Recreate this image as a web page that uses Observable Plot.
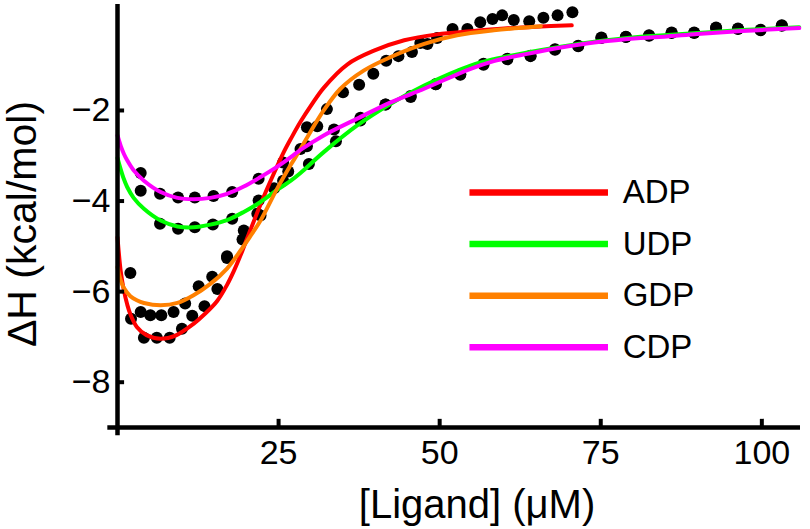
<!DOCTYPE html>
<html><head><meta charset="utf-8">
<script src="https://cdn.jsdelivr.net/npm/d3@7"></script>
<script src="https://cdn.jsdelivr.net/npm/@observablehq/plot@0.6"></script>
<style>html,body{margin:0;padding:0;background:#fff}#chart svg{display:block}</style>
</head><body><div id="chart"></div>
<script>
// ---- data ----
const series = ["ADP", "UDP", "GDP", "CDP"];
const colors = ["#ff0000", "#00ff00", "#ff8000", "#ff00ff"];
const xTicks = [25, 50, 75, 100];
const yTicks = [-2, -4, -6, -8];
const xLabel = "[Ligand] (\u03BCM)";
const yLabel = "\u0394H (kcal/mol)";

// measured points (black dots)
const adpX = [2.1, 4.1, 6.1, 8.1, 10.0, 11.6, 13.5, 15.5, 17.0, 19.4, 21.7, 24.3, 28.4, 31.0, 35.0, 39.7, 43.6, 47.0, 49.6, 54.3, 58.2, 61.5, 66.1, 68.3, 70.6];
const adpY = [-6.60, -7.02, -7.02, -7.02, -6.82, -6.53, -6.32, -5.94, -5.26, -4.85, -4.28, -3.72, -2.85, -2.35, -1.60, -1.19, -0.80, -0.51, -0.40, -0.20, 0.02, 0.0, 0.05, 0.10, 0.17];
const gdpX = [2.0, 3.6, 5.1, 6.8, 8.7, 10.5, 12.6, 14.7, 17.0, 19.6, 22.2, 26.5, 29.4, 32.5, 37.5, 41.7, 45.7, 48.1, 52.0, 56.3, 59.7, 63.9];
const gdpY = [-5.59, -6.45, -6.52, -6.52, -6.45, -6.26, -5.88, -5.67, -5.22, -4.65, -4.32, -3.35, -2.37, -1.97, -1.43, -0.90, -0.71, -0.53, -0.20, -0.05, 0.10, -0.03];
const udpX = [3.6, 6.6, 9.4, 12.0, 14.8, 17.8, 21.9, 25.7, 29.7, 33.9, 37.7, 41.6, 45.5, 49.4, 53.2, 56.8, 60.5, 64.1, 67.9, 71.5, 75.1, 78.9, 82.5, 86.0, 89.5, 92.9, 96.3, 99.8, 103.1];
const udpY = [-3.77, -4.50, -4.61, -4.58, -4.52, -4.39, -3.99, -3.55, -3.18, -2.68, -2.22, -1.87, -1.68, -1.42, -1.21, -0.99, -0.87, -0.80, -0.66, -0.58, -0.40, -0.38, -0.35, -0.29, -0.29, -0.18, -0.20, -0.23, -0.13];
const cdpX = [3.6, 6.6, 9.4, 12.0, 14.9, 17.8, 21.9, 25.7, 29.4, 33.6, 37.7, 41.6, 45.5, 49.4, 53.2, 56.8, 60.5, 64.1, 67.9, 71.5, 75.1, 78.9, 82.5, 86.0, 89.5, 92.9, 96.3, 99.8, 103.1];
const cdpY = [-3.38, -3.84, -3.92, -3.92, -3.89, -3.80, -3.51, -3.15, -2.79, -2.42, -2.16, -1.87, -1.70, -1.42, -1.20, -0.97, -0.86, -0.79, -0.65, -0.57, -0.39, -0.37, -0.34, -0.28, -0.28, -0.17, -0.19, -0.22, -0.12];

// fitted curves
const adpFitX = [0, 0.5, 1.0, 1.5, 2.0, 3.0, 4.5, 6.7, 9.0, 11.8, 13.5, 15.5, 17.0, 18.1, 19.4, 20.5, 21.7, 23.0, 24.3, 25.8, 27.0, 28.4, 30.0, 32.0, 35.7, 39.8, 44.5, 49.6, 54.8, 60.0, 65.0, 70.5];
const adpFitY = [-4.80, -5.55, -5.98, -6.28, -6.50, -6.78, -6.96, -7.04, -6.97, -6.71, -6.50, -6.20, -5.85, -5.53, -5.09, -4.68, -4.25, -3.80, -3.38, -2.92, -2.60, -2.25, -1.90, -1.50, -0.98, -0.68, -0.45, -0.32, -0.25, -0.19, -0.15, -0.12];
const gdpFitX = [0, 0.5, 1.0, 2.0, 3.0, 4.1, 6.7, 9.3, 11.8, 14.4, 17.0, 19.1, 20.5, 22.2, 24.8, 26.9, 28.4, 29.5, 32.0, 34.6, 38.2, 42.4, 47.6, 52.7, 58.4, 65.7];
const gdpFitY = [-5.46, -5.75, -5.92, -6.10, -6.19, -6.25, -6.30, -6.25, -6.08, -5.83, -5.49, -5.09, -4.80, -4.43, -3.72, -3.20, -2.85, -2.58, -2.00, -1.52, -1.12, -0.82, -0.53, -0.34, -0.23, -0.14];
const udpFitX = [0, 0.5, 1.0, 1.5, 2.5, 4.1, 6.7, 9.3, 11.8, 14.4, 17.0, 19.6, 22.2, 24.8, 26.9, 28.4, 32.0, 37.2, 42.4, 47.6, 54.8, 58.4, 63.6, 68.8, 74.0, 81.2, 84.8, 90.0, 95.2, 100.4, 105.8];
const udpFitY = [-3.05, -3.30, -3.52, -3.69, -3.93, -4.17, -4.43, -4.56, -4.58, -4.52, -4.42, -4.24, -4.02, -3.75, -3.55, -3.38, -2.92, -2.33, -1.85, -1.45, -1.01, -0.87, -0.72, -0.59, -0.48, -0.37, -0.34, -0.29, -0.24, -0.20, -0.16];
const cdpFitX = [0, 0.5, 1.0, 1.5, 2.5, 4.1, 6.7, 9.3, 11.8, 14.4, 17.0, 19.6, 22.2, 24.8, 26.9, 28.4, 32.0, 37.2, 42.4, 47.6, 54.8, 58.4, 63.6, 68.8, 74.0, 81.2, 84.8, 90.0, 95.2, 100.4, 105.8];
const cdpFitY = [-2.55, -2.78, -2.96, -3.10, -3.32, -3.55, -3.80, -3.93, -3.96, -3.93, -3.84, -3.68, -3.47, -3.24, -3.03, -2.87, -2.55, -2.18, -1.82, -1.52, -1.08, -0.91, -0.75, -0.61, -0.50, -0.40, -0.37, -0.31, -0.26, -0.22, -0.18];

// ---- build tables ----
const pts = (xs, ys, s) => xs.map((x, i) => ({x, y: ys[i], series: s}));
const dots = [
  ...pts(adpX, adpY, "ADP"), ...pts(udpX, udpY, "UDP"),
  ...pts(gdpX, gdpY, "GDP"), ...pts(cdpX, cdpY, "CDP")
];
const fits = {
  ADP: pts(adpFitX, adpFitY, "ADP"), UDP: pts(udpFitX, udpFitY, "UDP"),
  GDP: pts(gdpFitX, gdpFitY, "GDP"), CDP: pts(cdpFitX, cdpFitY, "CDP")
};
const legendRows = series.map((s, i) => ({s, c: colors[i], y: -3.81 - i * 1.14}));

const chart = Plot.plot({
  width: 810, height: 529,
  marginLeft: 117, marginRight: 10, marginTop: 4, marginBottom: 102,
  x: {domain: [0, 106], label: null},
  y: {domain: [-9, 0.34], label: null},
  color: {type: "identity"},
  style: {fontFamily: "'Liberation Sans', Arial, Helvetica, sans-serif", fontSize: "33px", color: "black", background: "white", overflow: "visible"},
  marks: [
    Plot.dot(dots, {x: "x", y: "y", r: 6, fill: "black", stroke: "none"}),
    ...series.map((s, i) => Plot.line(fits[s], {x: "x", y: "y", stroke: colors[i], strokeWidth: 4, curve: "catmull-rom"})),
    Plot.ruleX([0], {y1: -9.18, y2: 0.34, strokeWidth: 4.5, stroke: "black"}),
    Plot.ruleY([-9], {x1: -1.5, x2: 106, strokeWidth: 4.5, stroke: "black"}),
    Plot.ruleY(yTicks, {x1: 0, x2: 1.1, strokeWidth: 4, stroke: "black"}),
    Plot.ruleX(xTicks, {y1: -9, y2: -8.82, strokeWidth: 4, stroke: "black"}),
    Plot.axisX({ticks: xTicks, tickSize: 0, tickPadding: 12, fontSize: 34, label: null}),
    Plot.axisY({ticks: yTicks, tickSize: 0, tickPadding: 7, fontSize: 34, label: null}),
    Plot.ruleY(legendRows, {y: "y", x1: 54.7, x2: 76.2, stroke: "c", strokeWidth: 6.5}),
    Plot.text(legendRows, {x: 78.4, y: "y", text: "s", textAnchor: "start", fontSize: 33, fill: "black"}),
    Plot.text([yLabel], {frameAnchor: "left", textAnchor: "middle", lineAnchor: "middle", rotate: -90, dx: -95, dy: 8, fontSize: 41, fill: "black"}),
    Plot.text([xLabel], {frameAnchor: "bottom", textAnchor: "middle", lineAnchor: "middle", dx: 18, dy: 78, fontSize: 40, fill: "black"})
  ]
});
document.getElementById("chart").appendChild(chart);
</script>
</body></html>
